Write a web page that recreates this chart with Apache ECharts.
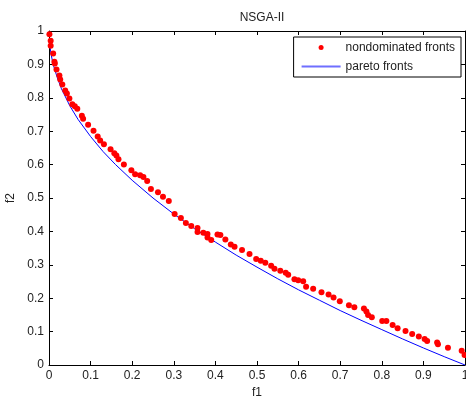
<!DOCTYPE html>
<html>
<head>
<meta charset="utf-8">
<script src="https://cdn.jsdelivr.net/npm/echarts@6/dist/echarts.min.js"></script>
<style>html,body{margin:0;padding:0;background:#fff}#c{width:466px;height:396px}</style>
</head>
<body>
<div id="c"></div>
<script>
var titleText = 'NSGA-II';
var xName = 'f1';
var yName = 'f2';
var seriesNames = ['nondominated fronts', 'pareto fronts'];

var ndF1 = [0.001,0.004,0.004,0.010,0.013,0.014,0.018,0.025,0.027,0.032,0.039,0.043,0.049,0.056,0.062,0.068,0.079,0.082,0.094,0.107,0.117,0.123,0.132,0.148,0.157,0.162,0.167,0.180,0.198,0.207,0.219,0.227,0.236,0.245,0.262,0.274,0.288,0.302,0.317,0.329,0.342,0.357,0.357,0.371,0.381,0.381,0.390,0.405,0.412,0.424,0.437,0.446,0.464,0.482,0.498,0.509,0.520,0.534,0.542,0.556,0.569,0.575,0.590,0.599,0.611,0.618,0.635,0.655,0.672,0.684,0.699,0.721,0.734,0.757,0.763,0.767,0.776,0.801,0.811,0.826,0.838,0.857,0.873,0.889,0.903,0.909,0.933,0.935,0.959,0.992,0.999];
var ndF2 = [0.990,0.971,0.956,0.933,0.908,0.903,0.885,0.867,0.855,0.840,0.822,0.813,0.798,0.781,0.775,0.767,0.746,0.737,0.719,0.701,0.684,0.672,0.661,0.646,0.634,0.627,0.616,0.600,0.583,0.571,0.568,0.563,0.551,0.527,0.517,0.504,0.491,0.452,0.440,0.425,0.416,0.410,0.398,0.396,0.392,0.382,0.374,0.391,0.389,0.376,0.361,0.354,0.344,0.332,0.317,0.312,0.306,0.297,0.288,0.282,0.276,0.270,0.257,0.254,0.251,0.234,0.228,0.218,0.211,0.202,0.191,0.179,0.173,0.169,0.160,0.150,0.143,0.132,0.132,0.120,0.110,0.102,0.093,0.085,0.078,0.072,0.067,0.062,0.052,0.043,0.030];

var paretoF1 = [0.001,0.005,0.01,0.02,0.03,0.05,0.07,0.1,0.13,0.16,0.2,0.25,0.3,0.35,0.4,0.45,0.5,0.55,0.6,0.65,0.7,0.75,0.8,0.85,0.9,0.95,1.0];
var paretoF2 = [0.968,0.930,0.900,0.860,0.827,0.776,0.735,0.684,0.639,0.600,0.553,0.500,0.452,0.408,0.368,0.329,0.293,0.258,0.225,0.194,0.163,0.134,0.106,0.078,0.051,0.025,0.000];

var ndData = ndF1.map(function(v,i){return [v, ndF2[i]];});
var paretoData = paretoF1.map(function(v,i){return [v, paretoF2[i]];});

var FONT = "'Liberation Sans', Arial, sans-serif";
var chart = echarts.init(document.getElementById('c'), null, {renderer:'canvas'});
function boxAxis(pos, labels){
  return {
    type:'value', min:0, max:1, interval:0.1, position:pos,
    axisLine:{show:true, onZero:false, lineStyle:{color:'#000', width:1}},
    axisTick:{show:true, inside:true, length:4, lineStyle:{color:'#000'}},
    splitLine:{show:false},
    axisLabel:{show:labels, color:'#222', fontSize:12, fontFamily:FONT, margin:5}
  };
}
var xMain = boxAxis('bottom', true);
xMain.name = xName; xMain.nameLocation='middle'; xMain.nameGap=18;
xMain.nameTextStyle = {color:'#222', fontSize:12, fontFamily:FONT};
var yMain = boxAxis('left', true);
yMain.name = yName; yMain.nameLocation='middle'; yMain.nameGap=31;
yMain.nameTextStyle = {color:'#222', fontSize:12, fontFamily:FONT};
chart.setOption({
  animation:false,
  backgroundColor:'#fff',
  title:{text:titleText, left:257, textAlign:'center', top:7, textStyle:{fontSize:12, fontWeight:'normal', color:'#222', fontFamily:FONT}},
  grid:{left:49, right:1, top:31, bottom:31, containLabel:false, outerBoundsMode:'none'},
  legend:{
    orient:'vertical', right:5, top:37,
    backgroundColor:'#fff', borderColor:'#000', borderWidth:1,
    padding:[4,6,4,8], itemGap:6, itemWidth:39, itemHeight:5,
    textStyle:{fontSize:12, color:'#222', fontFamily:FONT, lineHeight:13},
    data:[
      {name:seriesNames[0], icon:'circle', itemStyle:{color:'#ff0000', opacity:1}},
      {name:seriesNames[1], icon:'path://M0,0L39,0L39,2L0,2Z', itemStyle:{color:'#6f6fff', opacity:1}}
    ]
  },
  xAxis:[xMain, boxAxis('top', false)],
  yAxis:[yMain, boxAxis('right', false)],
  series:[
    {name:seriesNames[0], type:'scatter', xAxisIndex:0, yAxisIndex:0, data:ndData, symbol:'circle', symbolSize:6, itemStyle:{color:'#ff0000', opacity:1}, z:3},
    {name:seriesNames[1], type:'line', xAxisIndex:0, yAxisIndex:0, data:paretoData, symbol:'none', smooth:false, lineStyle:{color:'#0000ff', width:1}, itemStyle:{color:'#0000ff'}, z:2}
  ]
});
</script>
</body>
</html>
